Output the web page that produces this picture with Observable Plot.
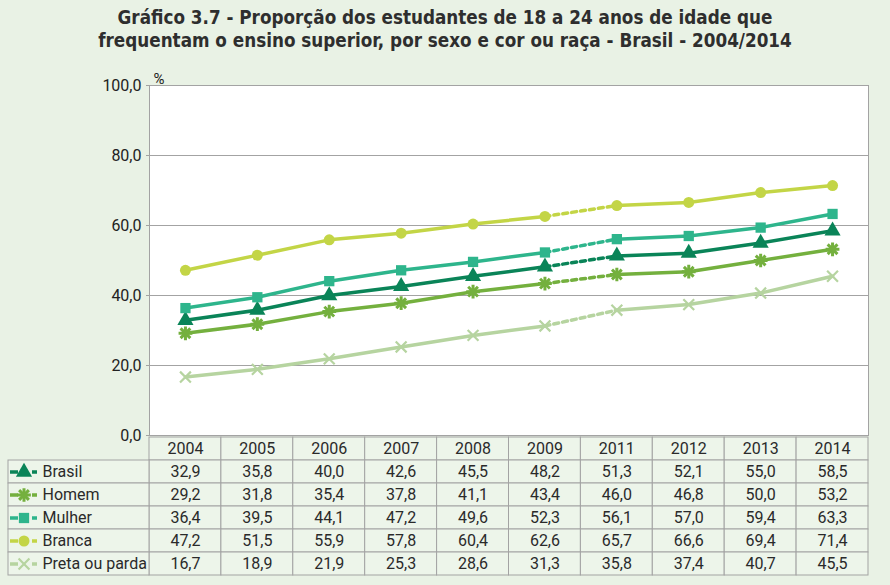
<!DOCTYPE html>
<html><head><meta charset="utf-8">
<script src="https://cdn.jsdelivr.net/npm/d3@7"></script>
<script src="https://cdn.jsdelivr.net/npm/@observablehq/plot@0.6"></script>
<style>
body{margin:0;background:#e9f2e5;width:890px;height:585px;overflow:hidden;}
#title{height:60px;box-sizing:border-box;padding-top:6px;text-align:center;font-family:"Liberation Sans Narrow","DejaVu Sans Condensed",sans-serif;font-stretch:condensed;font-weight:bold;font-size:18.7px;line-height:23px;color:#2e2e2e;}
svg{display:block;overflow:visible}
</style></head><body>
<div id="title">Gráfico 3.7 - Proporção dos estudantes de 18 a 24 anos de idade que<br>frequentam o ensino superior, por sexo e cor ou raça - Brasil - 2004/2014</div>
<div id="chart"></div>
<script>
const years = ["2004","2005","2006","2007","2008","2009","2011","2012","2013","2014"];
const seriesNames = ["Brasil","Homem","Mulher","Branca","Preta ou parda"];
const brasil = [32.9,35.8,40.0,42.6,45.5,48.2,51.3,52.1,55.0,58.5];
const homem  = [29.2,31.8,35.4,37.8,41.1,43.4,46.0,46.8,50.0,53.2];
const mulher = [36.4,39.5,44.1,47.2,49.6,52.3,56.1,57.0,59.4,63.3];
const branca = [47.2,51.5,55.9,57.8,60.4,62.6,65.7,66.6,69.4,71.4];
const preta  = [16.7,18.9,21.9,25.3,28.6,31.3,35.8,37.4,40.7,45.5];
const yTicks = [0,20,40,60,80,100];
const gapAfter = "2009"; // 2010 missing: dashed link 2009-2011

// styles
const colorRange = ["#0a8458","#74b03e","#2eb58c","#c3d546","#b6d4a0"];
const colorScale = {domain: seriesNames, range: colorRange};
const fmt = v => v.toFixed(1).replace(".", ",");
const font = "Roboto, 'Liberation Sans', sans-serif";

const values = [brasil, homem, mulher, branca, preta];
const gapI = years.indexOf(gapAfter);
const rows = seriesNames.flatMap((s, k) => years.map((yr, i) => ({
  series: s, year: yr, i, v: values[k][i], seg: i <= gapI ? "a" : "b"
})));
const dashedRows = rows.filter(d => d.i === gapI || d.i === gapI + 1);

function markers(series, data, x, y) {
  const o = {x, y};
  switch (series) {
    case "Brasil": return [Plot.dot(data, {...o, symbol: "triangle", fill: () => series, r: 6})];
    case "Homem": return [
      Plot.dot(data, {...o, symbol: "plus", stroke: () => series, strokeWidth: 3, r: 4.5}),
      Plot.dot(data, {...o, symbol: "times", stroke: () => series, strokeWidth: 3, r: 4.5}),
      Plot.dot(data, {...o, symbol: "circle", fill: () => series, r: 3})
    ];
    case "Mulher": return [Plot.dot(data, {...o, symbol: "square", fill: () => series, r: 5.8})];
    case "Branca": return [Plot.dot(data, {...o, symbol: "circle", fill: () => series, r: 5.5})];
    default: return [Plot.dot(data, {...o, symbol: "times", stroke: () => series, strokeWidth: 2.2, r: 5})];
  }
}

const chart = Plot.plot({
  width: 890, height: 375, marginTop: 25, marginBottom: 0, marginLeft: 149, marginRight: 22,
  style: {background: "transparent", fontFamily: font, fontSize: "16px", color: "#222", overflow: "visible"},
  x: {type: "linear", domain: [0, years.length], axis: null},
  y: {domain: [0, 100]},
  color: colorScale,
  marks: [
    Plot.frame({fill: "white", stroke: "none"}),
    Plot.gridY(yTicks.slice(1, -1), {stroke: "#a3a3a3", strokeOpacity: 1}),
    Plot.frame({stroke: "#a3a3a3"}),
    Plot.axisY(yTicks, {tickFormat: fmt, tickSize: 3, tickPadding: 5, stroke: "#a3a3a3", fill: "#222", fontSize: 16, label: null}),
    Plot.text(["%"], {frameAnchor: "top-left", dx: 4, dy: -12, fontSize: 15, fill: "#222"}),
    Plot.line(rows, {x: d => d.i + 0.5, y: "v", z: d => d.series + d.seg, stroke: "series", strokeWidth: 3.5}),
    Plot.line(dashedRows, {x: d => d.i + 0.5, y: "v", z: "series", stroke: "series", strokeWidth: 3.5, strokeDasharray: "5,4"}),
    ...seriesNames.flatMap(s => markers(s, rows.filter(d => d.series === s), d => d.i + 0.5, "v"))
  ]
});

const colPx = 719 / years.length;
const labelCols = 141 / colPx;
const rowKeys = ["ano", ...seriesNames];
const yearCells = rowKeys.flatMap(r => years.map((yr, i) => ({row: r, i})));

const table = Plot.plot({
  width: 890, height: 145, marginTop: 0, marginBottom: 4, marginLeft: 8, marginRight: 22,
  style: {background: "transparent", fontFamily: font, fontSize: "16px", color: "#2a2a2a"},
  x: {type: "linear", domain: [-labelCols, years.length], axis: null},
  y: {type: "band", domain: rowKeys, axis: null, padding: 0},
  color: colorScale,
  marks: [
    Plot.barX(yearCells, {x1: d => d.i, x2: d => d.i + 1, y: "row", fill: "#edf5ea", stroke: "#a3a3a3", inset: 0}),
    Plot.barX(seriesNames, {x1: () => -labelCols, x2: () => 0, y: d => d, fill: "#edf5ea", stroke: "#a3a3a3", inset: 0}),
    Plot.text(years, {x: (d, i) => i + 0.5, y: () => "ano", text: d => d, fontSize: 16, fill: "#2a2a2a"}),
    Plot.text(rows, {x: d => d.i + 0.5, y: "series", text: d => fmt(d.v), fontSize: 16, fill: "#2a2a2a"}),
    Plot.text(seriesNames, {x: () => -labelCols, y: d => d, dx: 34, text: d => d, textAnchor: "start", fontSize: 16, fill: "#2a2a2a"}),
    Plot.ruleY(seriesNames, {y: d => d, x1: () => -labelCols + 2 / colPx, x2: () => -labelCols + 29 / colPx, stroke: d => d, strokeWidth: 3.5, strokeDasharray: "8,14"}),
    ...seriesNames.flatMap(s => markers(s, [s], () => -labelCols + 15.5 / colPx, d => d))
  ]
});

document.getElementById("chart").append(chart, table);
</script>
</body></html>
